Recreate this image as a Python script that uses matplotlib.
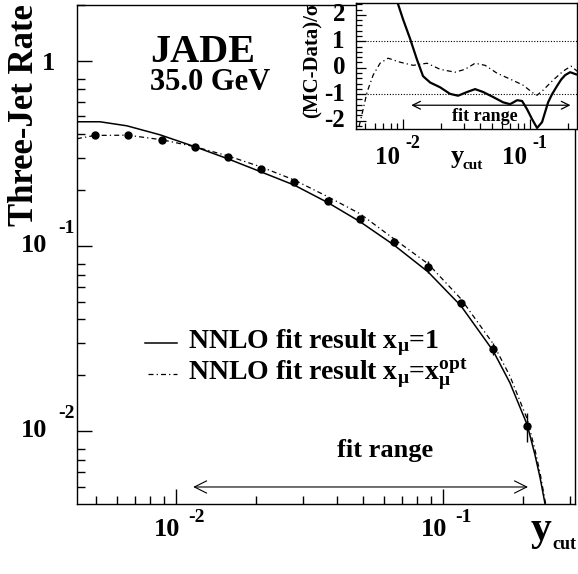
import numpy as np
import matplotlib.pyplot as plt
import matplotlib.transforms as mtransforms
from matplotlib.ticker import MultipleLocator, LogLocator, NullFormatter

plt.rcParams['font.family'] = 'Liberation Serif'
plt.rcParams['font.weight'] = 'bold'
plt.rcParams['mathtext.fontset'] = 'custom'
plt.rcParams['mathtext.rm'] = 'Liberation Serif:bold'
plt.rcParams['mathtext.it'] = 'Liberation Serif:bold'
plt.rcParams['mathtext.bf'] = 'Liberation Serif:bold'

# JADE data, three-jet rate vs y_cut
ycut = [0.00497, 0.0066, 0.00887, 0.01178, 0.01567, 0.0208, 0.0277,
        0.0371, 0.0489, 0.0655, 0.0879, 0.1167, 0.154, 0.2066]
rate = [0.398, 0.398, 0.374, 0.343, 0.303, 0.261, 0.222,
        0.175, 0.140, 0.105, 0.077, 0.049, 0.0277, 0.0106]
rate_err = [0.004, 0.004, 0.004, 0.004, 0.004, 0.003, 0.003,
            0.003, 0.003, 0.004, 0.006, 0.002, 0.0021, 0.0019]

# NNLO fit, x_mu = 1
x_nnlo = [0.00426, 0.00519, 0.00655, 0.00871, 0.01178, 0.01567, 0.0208, 0.0277,
          0.0371, 0.0489, 0.0655, 0.0879, 0.1167, 0.154, 0.178, 0.2066, 0.221,
          0.231, 0.241, 0.247]
y_nnlo = [0.468, 0.468, 0.445, 0.398, 0.343, 0.295, 0.251, 0.213,
          0.171, 0.135, 0.101, 0.0723, 0.0474, 0.0271, 0.0182, 0.0108, 0.00741,
          0.00557, 0.00403, 0.0035]

# NNLO fit, x_mu = x_mu^opt
x_opt = [0.00426, 0.00497, 0.0066, 0.00887, 0.01178, 0.01567, 0.0208, 0.0277,
         0.0371, 0.0489, 0.0655, 0.0879, 0.1167, 0.154, 0.178, 0.2066, 0.221,
         0.231, 0.241, 0.247]
y_opt = [0.379, 0.395, 0.396, 0.374, 0.343, 0.306, 0.267, 0.227,
         0.184, 0.149, 0.109, 0.080, 0.0517, 0.0296, 0.0198, 0.0116, 0.0079,
         0.0059, 0.0042, 0.0035]

# inset: (MC-Data)/sigma
xs_nnlo = [0.00849, 0.00914, 0.0100, 0.01135, 0.01288, 0.01436, 0.01633, 0.01955,
           0.02344, 0.0271, 0.0319, 0.0369, 0.0427, 0.0512, 0.0613, 0.0696,
           0.0791, 0.0865, 0.0946, 0.1037, 0.1135, 0.1242, 0.1386, 0.149,
           0.163, 0.1755, 0.1888, 0.2066, 0.230]
s_nnlo = [2.9, 2.40, 1.83, 1.10, 0.30, -0.32, -0.56, -0.74,
          -0.99, -1.06, -0.92, -0.81, -0.92, -1.11, -1.31, -1.38,
          -1.23, -1.26, -1.57, -1.95, -2.28, -2.06, -1.31, -1.00,
          -0.69, -0.45, -0.28, -0.17, -0.25]
xs_opt = [0.00451, 0.00485, 0.00521, 0.00581, 0.00659, 0.00762, 0.00946, 0.01199,
          0.01545, 0.01955, 0.02566, 0.03075, 0.0369, 0.04425, 0.0550, 0.0696,
          0.0881, 0.1056, 0.1135, 0.1265, 0.1517, 0.182, 0.210, 0.2344]
s_opt = [-2.21, -1.57, -0.92, -0.28, 0.17, 0.36, 0.21, 0.09,
         0.17, -0.06, -0.17, -0.06, 0.17, 0.09, -0.21, -0.43,
         -0.66, -0.96, -1.04, -0.85, -0.47, -0.13, 0.06, -0.13]

fit_lo, fit_hi = 0.0116, 0.208

W, H = 578, 574
fig = plt.figure(figsize=(W / 100, H / 100), dpi=100)


def box(l, t, r, b):
    return [l / W, 1 - b / H, (r - l) / W, (b - t) / H]


def off(tr, dx, dy):
    return mtransforms.offset_copy(tr, fig=fig, x=dx, y=dy, units='dots')


dashdot = (0, (4, 2.5, 1, 2.5))

# ---- main plot
ax = fig.add_axes(box(77, 5, 575, 504))
ax.set_xscale('log')
ax.set_yscale('log')
ax.set_xlim(0.00426, 0.312)
ax.set_ylim(0.00403, 2.0)
ax.plot(x_nnlo, y_nnlo, color='k', lw=1.1)
ax.plot(x_opt, y_opt, color='k', lw=0.9, ls=dashdot)
ax.errorbar(ycut, rate, yerr=rate_err, fmt='o', color='k', ms=5,
            elinewidth=1, capsize=0)
ax.annotate('', xy=(fit_lo, 0.00498), xytext=(fit_hi, 0.00498),
            arrowprops=dict(arrowstyle='<->', lw=0.8, color='k',
                            mutation_scale=22, shrinkA=0, shrinkB=0))
ax.text(0.0607, 0.00788, 'fit range', fontsize=19, ha='center', va='center')

for s in ax.spines.values():
    s.set_linewidth(1.0)
ax.xaxis.set_major_locator(LogLocator(base=10, subs=[1.0]))
ax.xaxis.set_minor_locator(LogLocator(base=10, subs=np.arange(2, 10)))
ax.yaxis.set_major_locator(LogLocator(base=10, subs=[1.0]))
ax.yaxis.set_minor_locator(LogLocator(base=10, subs=np.arange(2, 9)))
ax.xaxis.set_minor_formatter(NullFormatter())
ax.yaxis.set_minor_formatter(NullFormatter())
ax.tick_params(which='both', direction='in', top=False, right=False,
               labelbottom=False, labelleft=False, width=1.0)
ax.tick_params(which='major', length=11)
ax.tick_params(which='minor', length=6)

# ROOT style tick labels
ytr = ax.get_yaxis_transform()
ax.text(0, 1.0, '1', transform=off(ytr, -22, -3), ha='right', va='center', fontsize=19)
for v, e in [(0.1, '-1'), (0.01, '-2')]:
    ax.text(0, v, '10', transform=off(ytr, -30, 0), ha='right', va='center', fontsize=19)
    ax.text(0, v, e, transform=off(ytr, -19, 17), ha='left', va='center', fontsize=14)
xtr = ax.get_xaxis_transform()
for v, e in [(0.01, '-2'), (0.1, '-1')]:
    ax.text(v, 0, '10', transform=off(xtr, 4, -25), ha='right', va='center', fontsize=19)
    ax.text(v, 0, e, transform=off(xtr, 12, -13), ha='left', va='center', fontsize=14)

fig.text(25 / W, 1 - 4 / H, 'Three-Jet Rate', rotation=90, ha='center', va='top', fontsize=25)
fig.text(531 / W, 1 - 540 / H, 'y', ha='left', va='baseline', fontsize=30)
fig.text(552 / W, 1 - 549 / H, 'cut', ha='left', va='baseline', fontsize=13)

fig.text(150 / W, 1 - 62 / H, 'JADE', ha='left', va='baseline', fontsize=29)
fig.text(150 / W, 1 - 90 / H, '35.0 GeV', ha='left', va='baseline', fontsize=22)

# legend
fig.add_artist(plt.Line2D([145 / W, 177 / W], [1 - 343 / H] * 2, color='k', lw=1.1))
fig.add_artist(plt.Line2D([148 / W, 177 / W], [1 - 374 / H] * 2, color='k', lw=0.9, ls=dashdot))
fig.text(188 / W, 1 - 343 / H, r'NNLO fit result x$_{\mathrm{μ}}$=1', ha='left', va='center', fontsize=20)
fig.text(188 / W, 1 - 374 / H, r'NNLO fit result x$_{\mathrm{μ}}$=x$_{\mathrm{μ}}^{\mathrm{opt}}$',
         ha='left', va='center', fontsize=20)

# ---- inset
ins = fig.add_axes(box(356, 3, 577, 129))
ins.set_facecolor('white')
ins.set_xscale('log')
ins.set_xlim(0.00426, 0.234)
ins.set_ylim(-2.32, 2.45)
ins.axhline(1, color='k', lw=0.8, ls=(0, (1, 1.5)))
ins.axhline(-1, color='k', lw=0.8, ls=(0, (1, 1.5)))
ins.plot(xs_nnlo, s_nnlo, color='k', lw=1.6)
ins.plot(xs_opt, s_opt, color='k', lw=0.9, ls=dashdot)
ins.annotate('', xy=(fit_lo, -1.42), xytext=(fit_hi, -1.42),
             arrowprops=dict(arrowstyle='<->', lw=0.9, color='k',
                             mutation_scale=14, shrinkA=0, shrinkB=0))
ins.text(0.0442, -1.85, 'fit range', fontsize=13, ha='center', va='center')
for s in ins.spines.values():
    s.set_linewidth(1.0)
ins.xaxis.set_major_locator(LogLocator(base=10, subs=[1.0]))
ins.xaxis.set_minor_locator(LogLocator(base=10, subs=np.arange(2, 10)))
ins.xaxis.set_minor_formatter(NullFormatter())
ins.yaxis.set_major_locator(MultipleLocator(1))
ins.yaxis.set_minor_locator(MultipleLocator(0.2))
ins.tick_params(which='both', direction='in', top=False, right=False,
                labelbottom=False, labelleft=False, width=0.9)
ins.tick_params(which='major', length=7)
ins.tick_params(which='minor', length=4)

iytr = ins.get_yaxis_transform()
for v, lab in [(2, '2'), (1, '1'), (0, '0'), (-1, '-1'), (-2, '-2')]:
    ins.text(0, v, lab, transform=off(iytr, -11, 0), ha='right', va='center', fontsize=18)
ixtr = ins.get_xaxis_transform()
for v, e in [(0.01, '-2'), (0.1, '-1')]:
    ins.text(v, 0, '10', transform=off(ixtr, -3, -28), ha='right', va='center', fontsize=18)
    ins.text(v, 0, e, transform=off(ixtr, 2, -14), ha='left', va='center', fontsize=13)
fig.text(451 / W, 1 - 163 / H, 'y', ha='left', va='baseline', fontsize=19)
fig.text(463 / W, 1 - 169 / H, 'cut', ha='left', va='baseline', fontsize=11)
fig.text(313 / W, 1 - 3 / H, '(MC-Data)/σ', rotation=90, ha='center', va='top', fontsize=15)

fig.savefig('out.png', dpi=100)
